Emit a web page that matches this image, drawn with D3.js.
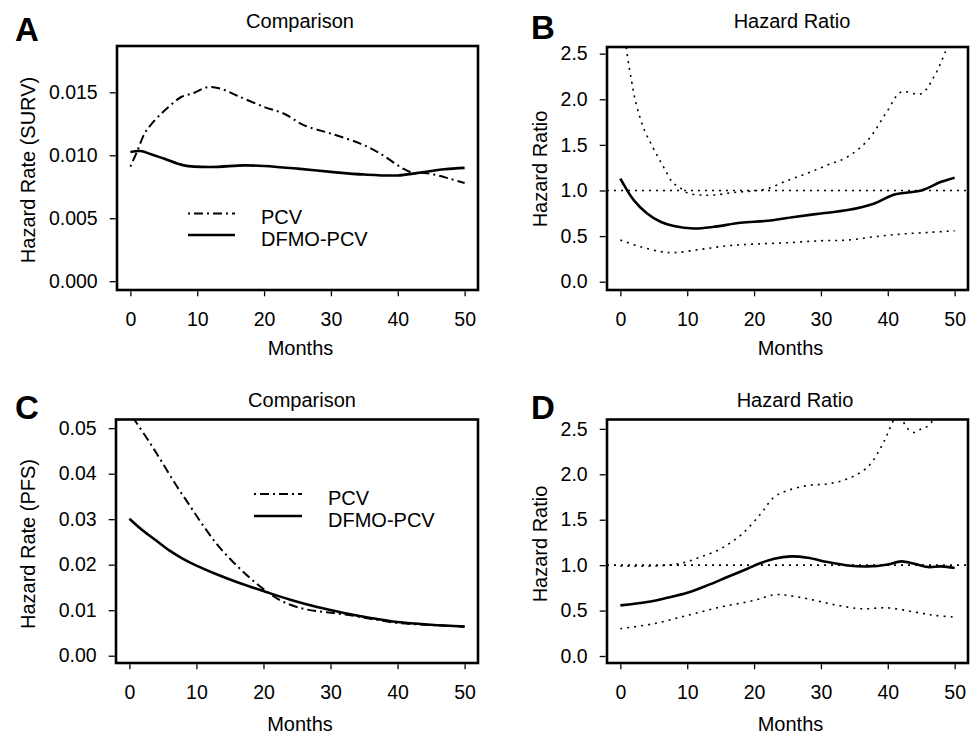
<!DOCTYPE html>
<html>
<head>
<meta charset="utf-8">
<script src="https://cdn.jsdelivr.net/npm/d3@7/dist/d3.min.js"></script>
<style>
  html, body { margin: 0; padding: 0; background: #fff; }
  svg text { font-family: "Liberation Sans", Arial, Helvetica, sans-serif; fill: #000; }
</style>
</head>
<body>
<svg id="chart" width="976" height="734"></svg>
<script>
// ---------------- DATA ----------------
const monthTicks = [0, 10, 20, 30, 40, 50];
const survTicks = [0, 0.005, 0.010, 0.015];
const pfsTicks = [0, 0.01, 0.02, 0.03, 0.04, 0.05];
const ratioTicks = [0, 0.5, 1.0, 1.5, 2.0, 2.5];
const seriesNames = ["PCV", "DFMO-PCV"];

// Panel A: hazard rate (SURV)
const aPcvMonths = [0, 1, 2.1, 3, 4.6, 6, 7.6, 9.5, 11.6, 13.5, 16, 20, 23, 26, 30, 34.4, 37.4, 40.8, 42.3, 44, 46, 48, 50];
const aPcvRate   = [0.0091, 0.0103, 0.0117, 0.01238, 0.0133, 0.01397, 0.01463, 0.01495, 0.01542, 0.01529, 0.01473, 0.01384, 0.0133, 0.01238, 0.01172, 0.01093, 0.01013, 0.00894, 0.0086, 0.0086, 0.0084, 0.0081, 0.0078];
const aDfmoMonths = [0, 1.5, 3, 5, 8, 12, 17, 20, 25, 30, 35, 40, 43, 47, 50];
const aDfmoRate   = [0.01026, 0.01034, 0.0101, 0.00974, 0.0092, 0.00907, 0.0092, 0.00915, 0.00894, 0.00868, 0.00847, 0.0084, 0.0086, 0.00889, 0.009];

// Panel B: hazard ratio (SURV) with confidence band
const bHrMonths = [0, 2, 4, 6, 8, 11, 14, 18, 22, 26, 30, 34, 38, 41, 45, 48, 50];
const bHr       = [1.13, 0.894, 0.748, 0.657, 0.61, 0.584, 0.602, 0.646, 0.668, 0.71, 0.748, 0.785, 0.858, 0.956, 1.0, 1.095, 1.14];
const bUpperMonths = [0.5, 1.1, 1.7, 2.1, 2.85, 3.6, 4.6, 5.6, 6.6, 7.8, 9.1, 10.1, 12, 14, 17, 20, 22, 25, 28, 31, 34, 37, 40, 42, 45, 47, 48.5, 50];
const bUpper       = [2.8, 2.45, 2.19, 2.03, 1.82, 1.66, 1.51, 1.37, 1.24, 1.09, 1.02, 0.97, 0.95, 0.95, 0.978, 0.996, 1.02, 1.11, 1.19, 1.28, 1.37, 1.55, 1.88, 2.08, 2.06, 2.26, 2.5, 2.8];
const bLowerMonths = [0, 3, 6, 8, 12, 16, 20, 25, 30, 34, 38, 42, 46, 50];
const bLower       = [0.456, 0.383, 0.33, 0.318, 0.354, 0.394, 0.412, 0.427, 0.449, 0.456, 0.493, 0.522, 0.54, 0.558];

// Panel C: hazard rate (PFS)
const cPcvMonths = [0, 1, 3, 5, 7, 9, 11, 13, 15, 17, 19, 21, 23, 26, 29, 32, 36, 40, 44, 50];
const cPcvRate   = [0.0535, 0.0513, 0.0469, 0.0422, 0.0374, 0.033, 0.0286, 0.0246, 0.0213, 0.0184, 0.0158, 0.0136, 0.0118, 0.0103, 0.0096, 0.0091, 0.0081, 0.0072, 0.0068, 0.0064];
const cDfmoMonths = [0, 2, 4, 6, 8, 10, 13, 16, 20, 24, 28, 32, 36, 40, 45, 50];
const cDfmoRate   = [0.0301, 0.0275, 0.0253, 0.0231, 0.0213, 0.0198, 0.0179, 0.0162, 0.0142, 0.0123, 0.0107, 0.0094, 0.0083, 0.0074, 0.0068, 0.0064];

// Panel D: hazard ratio (PFS) with confidence band
const dHrMonths = [0, 4, 7, 10, 13, 16, 19, 21, 23, 25.5, 28, 31, 34, 37, 40, 42, 44, 46, 48, 50];
const dHr       = [0.557, 0.594, 0.641, 0.696, 0.777, 0.869, 0.96, 1.023, 1.07, 1.096, 1.081, 1.034, 0.997, 0.986, 1.008, 1.041, 1.015, 0.979, 0.986, 0.968];
const dUpperMonths = [0, 5, 9, 12, 15, 18, 21, 23, 25, 28, 31, 34, 37, 39, 40, 41, 42, 43, 44, 45, 46, 47, 48];
const dUpper       = [0.99, 0.99, 1.02, 1.09, 1.18, 1.33, 1.565, 1.75, 1.82, 1.877, 1.895, 1.95, 2.08, 2.30, 2.45, 2.6, 2.6, 2.5, 2.46, 2.5, 2.53, 2.62, 2.75];
const dLowerMonths = [0, 5, 10, 15, 20, 23, 25, 28, 32, 36, 40, 44, 47, 50];
const dLower       = [0.30, 0.356, 0.447, 0.539, 0.612, 0.674, 0.667, 0.63, 0.565, 0.52, 0.53, 0.484, 0.447, 0.429];
const refRatio = [1.0];

// ---------------- DRAWING ----------------
const svg = d3.select("#chart");
const FS = 20;      // titles / axis labels / legend
const TFS = 19.5;   // tick labels
const zip = (xs, ys) => xs.map((x, i) => [x, ys[i]]);

const styles = {
  dashdot: { w: 2, dash: "2,4,9,4" },
  solid:   { w: 2.6, dash: null },
  dotted:  { w: 1.6, dash: "2,5" }
};

function panel(cfg) {
  const g = svg.append("g");
  const x = d3.scaleLinear().domain([-2, 52]).range([cfg.box.l, cfg.box.r]);
  const y = d3.scaleLinear().domain(cfg.yDomain).range([cfg.box.b, cfg.box.t]);

  const clipId = "clip" + cfg.letter;
  svg.append("clipPath").attr("id", clipId).append("rect")
    .attr("x", cfg.box.l).attr("y", cfg.box.t)
    .attr("width", cfg.box.r - cfg.box.l).attr("height", cfg.box.b - cfg.box.t);

  const line = d3.line().x(d => x(d[0])).y(d => y(d[1])).curve(d3.curveCatmullRom.alpha(0.5));
  const plot = g.append("g").attr("clip-path", `url(#${clipId})`);

  cfg.series.forEach(s => {
    const st = styles[s.style];
    plot.append("path").datum(s.data)
      .attr("d", line).attr("fill", "none").attr("stroke", "#000")
      .attr("stroke-width", st.w).attr("stroke-dasharray", st.dash)
      .attr("stroke-linejoin", "round");
  });

  // Box
  g.append("rect").attr("x", cfg.box.l).attr("y", cfg.box.t)
    .attr("width", cfg.box.r - cfg.box.l).attr("height", cfg.box.b - cfg.box.t)
    .attr("fill", "none").attr("stroke", "#000").attr("stroke-width", 2.6);

  // Axes
  const xa = g.append("g").attr("transform", `translate(0,${cfg.box.b + 1.3})`)
    .call(d3.axisBottom(x).tickValues(monthTicks).tickSize(5).tickSizeOuter(0).tickPadding(16).tickFormat(d3.format("d")));
  const ya = g.append("g").attr("transform", `translate(${cfg.box.l - 1.3},0)`)
    .call(d3.axisLeft(y).tickValues(cfg.yTicks).tickSize(6).tickSizeOuter(0).tickPadding(12).tickFormat(d3.format(cfg.yFmt)));
  [xa, ya].forEach(a => {
    a.select(".domain").remove();
    a.selectAll("line").attr("stroke", "#000").attr("stroke-width", 1.3);
    a.selectAll("text").attr("font-size", TFS).attr("font-family", null);
  });

  // Texts
  g.append("text").attr("x", cfg.title.x).attr("y", cfg.title.y).attr("dy", "0.35em")
    .attr("text-anchor", "middle").attr("font-size", FS).text(cfg.titleText);
  g.append("text").attr("x", (cfg.box.l + cfg.box.r) / 2 + 3).attr("y", cfg.xlabY).attr("dy", "0.35em")
    .attr("text-anchor", "middle").attr("font-size", FS).text("Months");
  g.append("text").attr("transform", `translate(${cfg.ylab.x},${cfg.ylab.y}) rotate(-90)`).attr("dy", "0.35em")
    .attr("text-anchor", "middle").attr("font-size", FS).text(cfg.ylabText);
  g.append("text").attr("x", cfg.letterPos.x).attr("y", cfg.letterPos.y)
    .attr("font-size", 33).attr("font-weight", "bold").text(cfg.letter);

  // Legend
  if (cfg.legend) {
    const L = cfg.legend;
    const items = [{ name: seriesNames[0], style: "dashdot" }, { name: seriesNames[1], style: "solid" }];
    items.forEach((it, i) => {
      const st = styles[it.style];
      const ly = L.y + i * L.dy;
      g.append("line").attr("x1", L.x1).attr("x2", L.x2).attr("y1", ly).attr("y2", ly)
        .attr("stroke", "#000").attr("stroke-width", st.w).attr("stroke-dasharray", st.dash);
      g.append("text").attr("x", L.tx).attr("y", ly + L.tdy).attr("dy", "0.35em")
        .attr("font-size", FS).text(it.name);
    });
  }
}

panel({
  letter: "A", letterPos: { x: 15, y: 41 },
  box: { l: 117, r: 478, t: 46, b: 290 },
  yDomain: [-0.0007, 0.01868], yTicks: survTicks, yFmt: ".3f",
  titleText: "Comparison", title: { x: 300, y: 21 },
  xlabY: 348, ylabText: "Hazard Rate (SURV)", ylab: { x: 28, y: 170 },
  series: [
    { data: zip(aPcvMonths, aPcvRate), style: "dashdot" },
    { data: zip(aDfmoMonths, aDfmoRate), style: "solid" }
  ],
  legend: { x1: 188, x2: 235, y: 213.5, dy: 21.5, tx: 261, tdy: 3.5 }
});

panel({
  letter: "B", letterPos: { x: 531, y: 39 },
  box: { l: 607, r: 968, t: 47, b: 290 },
  yDomain: [-0.091, 2.573], yTicks: ratioTicks, yFmt: ".1f",
  titleText: "Hazard Ratio", title: { x: 792, y: 21 },
  xlabY: 348, ylabText: "Hazard Ratio", ylab: { x: 540, y: 169 },
  series: [
    { data: [[-2, refRatio[0]], [52, refRatio[0]]], style: "dotted" },
    { data: zip(bUpperMonths, bUpper), style: "dotted" },
    { data: zip(bLowerMonths, bLower), style: "dotted" },
    { data: zip(bHrMonths, bHr), style: "solid" }
  ]
});

panel({
  letter: "C", letterPos: { x: 15, y: 419 },
  box: { l: 116, r: 478, t: 419.5, b: 663 },
  yDomain: [-0.0016, 0.0519], yTicks: pfsTicks, yFmt: ".2f",
  titleText: "Comparison", title: { x: 302, y: 400 },
  xlabY: 723.5, ylabText: "Hazard Rate (PFS)", ylab: { x: 28, y: 544 },
  series: [
    { data: zip(cPcvMonths, cPcvRate), style: "dashdot" },
    { data: zip(cDfmoMonths, cDfmoRate), style: "solid" }
  ],
  legend: { x1: 254, x2: 302, y: 494, dy: 22, tx: 328, tdy: 3.5 }
});

panel({
  letter: "D", letterPos: { x: 531, y: 419 },
  box: { l: 607, r: 968, t: 419.5, b: 663 },
  yDomain: [-0.077, 2.603], yTicks: ratioTicks, yFmt: ".1f",
  titleText: "Hazard Ratio", title: { x: 795, y: 400 },
  xlabY: 723.5, ylabText: "Hazard Ratio", ylab: { x: 540, y: 544 },
  series: [
    { data: [[-2, refRatio[0]], [52, refRatio[0]]], style: "dotted" },
    { data: zip(dUpperMonths, dUpper), style: "dotted" },
    { data: zip(dLowerMonths, dLower), style: "dotted" },
    { data: zip(dHrMonths, dHr), style: "solid" }
  ]
});
</script>
</body>
</html>
